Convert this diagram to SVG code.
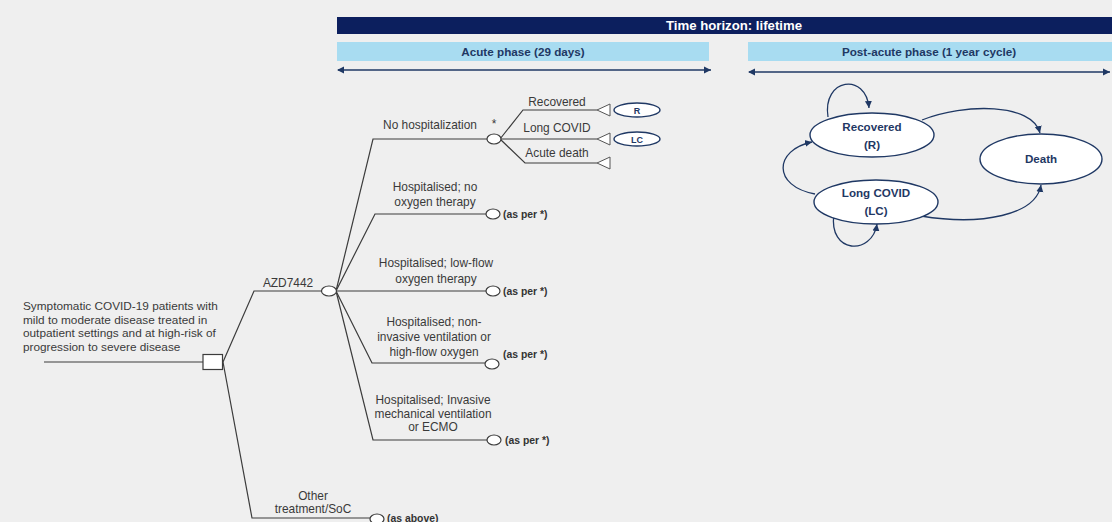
<svg xmlns="http://www.w3.org/2000/svg" width="1112" height="522" viewBox="0 0 1112 522">
<defs>
<style>
.t{font-family:"Liberation Sans",Arial,sans-serif;font-size:11.9px;fill:#3a3a3a;text-anchor:middle}
.tl{font-family:"Liberation Sans",Arial,sans-serif;font-size:11.8px;fill:#3a3a3a}
.b{font-family:"Liberation Sans",Arial,sans-serif;font-size:10.4px;font-weight:bold;fill:#333}
.hd{font-family:"Liberation Sans",Arial,sans-serif;font-size:11.7px;font-weight:bold;text-anchor:middle}
.ln{stroke:#3c3c3c;stroke-width:1.2;fill:none}
.ch{fill:#fff;stroke:#3c3c3c;stroke-width:1.2}
.tri{fill:#fff;stroke:#555;stroke-width:1}
.st{fill:#fff;stroke:#1f3864;stroke-width:1.4}
.sn{font-family:"Liberation Sans",Arial,sans-serif;font-size:11.6px;font-weight:bold;fill:#1f3864;text-anchor:middle}
.sm{font-family:"Liberation Sans",Arial,sans-serif;font-size:9px;font-weight:bold;fill:#1f3864;text-anchor:middle}
.ar{stroke:#1f3864;stroke-width:1.3;fill:none}
</style>
<marker id="ah" markerWidth="8" markerHeight="8" refX="7" refY="4" orient="auto" markerUnits="userSpaceOnUse">
<path d="M0,0.5 L7,4 L0,7.5 Z" fill="#1f3864"/>
</marker>
<marker id="as" markerWidth="8" markerHeight="8" refX="1" refY="4" orient="auto" markerUnits="userSpaceOnUse">
<path d="M7,0.5 L0,4 L7,7.5 Z" fill="#1f3864"/>
</marker>
</defs>
<rect width="1112" height="522" fill="#efefef"/>

<g id="header">
<rect x="337" y="17" width="775" height="17" fill="#0c1f5e"/>
<text class="hd" x="734" y="30" fill="#fff" style="font-size:13.2px">Time horizon: lifetime</text>
<rect x="337" y="42" width="372" height="19" fill="#a8dcf1"/>
<text class="hd" x="523" y="56" fill="#1f3864">Acute phase (29 days)</text>
<rect x="748" y="42" width="364" height="19" fill="#a8dcf1"/>
<text class="hd" x="929" y="56" fill="#1f3864">Post-acute phase (1 year cycle)</text>
<line x1="338" y1="70" x2="711" y2="70" class="ar" marker-start="url(#as)" marker-end="url(#ah)"/>
<line x1="749" y1="72" x2="1110" y2="72" class="ar" marker-start="url(#as)" marker-end="url(#ah)"/>
</g>

<g id="connectors">
<line x1="44" y1="362" x2="203" y2="362" class="ln"/>
<polyline points="223,362 254,291 322,291" class="ln"/>
<polyline points="223,362 252,518 370,518" class="ln"/>
<polyline points="336,291 373,139 487,139" class="ln"/>
<polyline points="336,291 375,214 487,214" class="ln"/>
<line x1="336" y1="291" x2="487" y2="291" class="ln"/>
<polyline points="336,291 372,363 486,363" class="ln"/>
<polyline points="336,291 373,440 488,440" class="ln"/>
<polyline points="500,139 523,110 597,110" class="ln"/>
<line x1="500" y1="139" x2="597" y2="139" class="ln"/>
<polyline points="500,139 525,163 597,163" class="ln"/>
<path d="M828,117 C822,78 866,72 869,108" class="ar" marker-end="url(#ah)"/>
<path d="M922,120 C965,103 1032,103 1040,133" class="ar" marker-end="url(#ah)"/>
<path d="M815,194 C772,186 774,150 812,142" class="ar" marker-end="url(#ah)"/>
<path d="M834,214 C828,254 872,256 877,224" class="ar" marker-end="url(#ah)"/>
<path d="M921,216 C982,226 1036,215 1041,185" class="ar" marker-end="url(#ah)"/>
</g>

<g id="root">
<text class="tl" x="23" y="310">Symptomatic COVID-19 patients with</text>
<text class="tl" x="23" y="323.5">mild to moderate disease treated in</text>
<text class="tl" x="23" y="337">outpatient settings and at high-risk of</text>
<text class="tl" x="23" y="350.5">progression to severe disease</text>
<rect x="203" y="354.5" width="19.5" height="15" fill="#fff" stroke="#3c3c3c" stroke-width="1.2"/>
</g>

<g id="azd">
<text class="t" x="288" y="287">AZD7442</text>
<ellipse cx="329" cy="291" rx="7.5" ry="5" class="ch"/>
</g>

<g id="nohosp">
<text class="t" x="430" y="129">No hospitalization</text>
<text class="t" x="494" y="128">*</text>
<ellipse cx="494" cy="139" rx="7" ry="5" class="ch"/>
</g>

<g id="recovered-branch">
<text class="t" x="557" y="106">Recovered</text>
<polygon points="597,110 610,104 610,116" class="tri"/>
<ellipse cx="637" cy="110" rx="23" ry="7" class="st"/>
<text class="sm" x="637" y="113.5">R</text>
</g>
<g id="longcovid-branch">
<text class="t" x="557" y="132">Long COVID</text>
<polygon points="597,139 610,133 610,145" class="tri"/>
<ellipse cx="637" cy="139" rx="23" ry="7" class="st"/>
<text class="sm" x="637" y="142.5">LC</text>
</g>
<g id="acutedeath-branch">
<text class="t" x="557" y="157">Acute death</text>
<polygon points="597,163 610,157 610,169" class="tri"/>
</g>

<g id="hosp-no-oxygen">
<text class="t" x="435" y="191">Hospitalised; no</text>
<text class="t" x="435" y="206">oxygen therapy</text>
<ellipse cx="493" cy="214" rx="7" ry="5" class="ch"/>
<text class="b" x="503" y="217.5">(as per *)</text>
</g>

<g id="hosp-low-flow">
<text class="t" x="436" y="267">Hospitalised; low-flow</text>
<text class="t" x="436" y="283">oxygen therapy</text>
<ellipse cx="493" cy="291" rx="7" ry="5" class="ch"/>
<text class="b" x="503" y="294.5">(as per *)</text>
</g>

<g id="hosp-noninvasive">
<text class="t" x="434" y="326">Hospitalised; non-</text>
<text class="t" x="434" y="341">invasive ventilation or</text>
<text class="t" x="434" y="356">high-flow oxygen</text>
<ellipse cx="492" cy="364" rx="7" ry="5" class="ch"/>
<text class="b" x="503" y="358">(as per *)</text>
</g>

<g id="hosp-invasive">
<text class="t" x="433" y="404">Hospitalised; Invasive</text>
<text class="t" x="433" y="417.5">mechanical ventilation</text>
<text class="t" x="433" y="431">or ECMO</text>
<ellipse cx="494" cy="440" rx="7" ry="5" class="ch"/>
<text class="b" x="505" y="443.5">(as per *)</text>
</g>

<g id="other">
<text class="t" x="313" y="500">Other</text>
<text class="t" x="313" y="513">treatment/SoC</text>
<ellipse cx="377" cy="519" rx="7" ry="5" class="ch"/>
<text class="b" x="387" y="522">(as above)</text>
</g>

<g id="state-recovered">
<ellipse cx="872" cy="135" rx="62" ry="22" class="st"/>
<text class="sn" x="872" y="131">Recovered</text>
<text class="sn" x="872" y="149">(R)</text>
</g>
<g id="state-longcovid">
<ellipse cx="876" cy="202" rx="62" ry="22" class="st"/>
<text class="sn" x="876" y="197">Long COVID</text>
<text class="sn" x="876" y="215">(LC)</text>
</g>
<g id="state-death">
<ellipse cx="1041" cy="159" rx="61" ry="25" class="st"/>
<text class="sn" x="1041" y="163">Death</text>
</g>
</svg>
